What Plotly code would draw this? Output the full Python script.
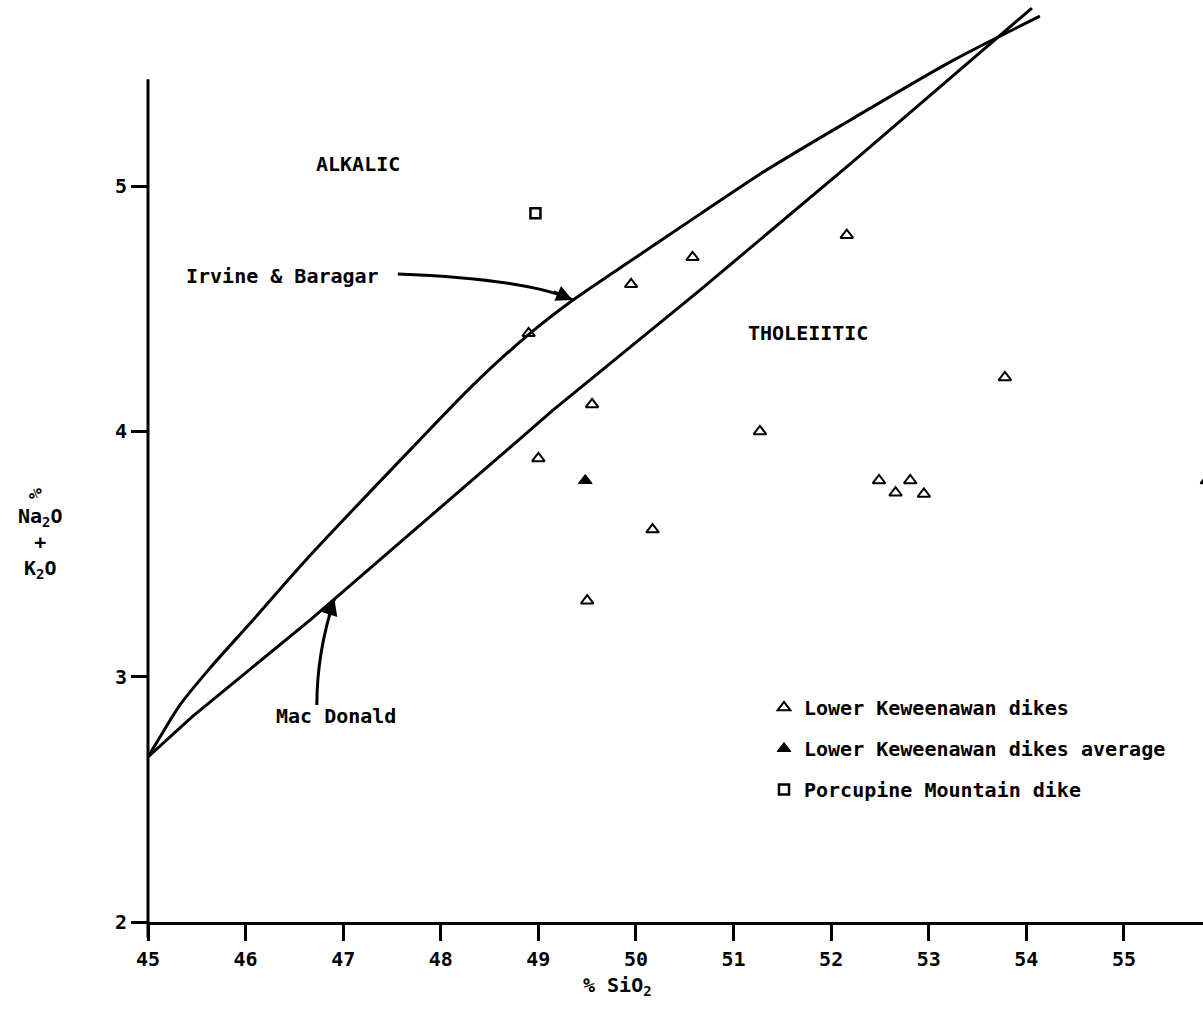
import plotly.graph_objects as go

# ---------------- data ----------------
dike_sio2 = [48.9, 49.0, 49.5, 49.55, 49.95, 50.17, 50.58, 51.27, 52.16, 52.49, 52.66, 52.81, 52.95, 53.78, 55.85]
dike_alk = [4.40, 3.89, 3.31, 4.11, 4.60, 3.60, 4.71, 4.00, 4.80, 3.80, 3.75, 3.80, 3.745, 4.22, 3.80]

avg_sio2 = [49.48]
avg_alk = [3.80]

porc_sio2 = [48.97]
porc_alk = [4.89]

# Irvine & Baragar boundary
ib_x = [45.0, 45.123, 45.328, 45.635, 46.076, 46.609, 47.684, 48.330, 48.893, 49.355, 49.836, 50.656, 51.270, 52.193, 53.217, 54.139]
ib_y = [2.673, 2.754, 2.885, 3.035, 3.231, 3.472, 3.924, 4.189, 4.393, 4.536, 4.666, 4.886, 5.049, 5.269, 5.506, 5.693]

# Mac Donald boundary
md_x = [45.0, 45.451, 46.660, 47.377, 48.678, 49.150, 50.656, 52.193, 54.057]
md_y = [2.673, 2.836, 3.231, 3.476, 3.924, 4.087, 4.576, 5.090, 5.726]

x_ticks = [45, 46, 47, 48, 49, 50, 51, 52, 53, 54, 55]
y_ticks = [2, 3, 4, 5]

FONT = "DejaVu Sans Mono"
BLACK = "black"

fig = go.Figure()

fig.add_trace(go.Scatter(x=ib_x, y=ib_y, mode="lines", line=dict(color=BLACK, width=3, shape="spline", smoothing=0.8),
                         showlegend=False, hoverinfo="skip"))
fig.add_trace(go.Scatter(x=md_x, y=md_y, mode="lines", line=dict(color=BLACK, width=3),
                         showlegend=False, hoverinfo="skip"))

fig.add_trace(go.Scatter(x=dike_sio2, y=dike_alk, mode="markers", name="Lower Keweenawan dikes",
                         legendgroup="a",
                         marker=dict(symbol="triangle-up-open", size=11, color=BLACK, line=dict(width=2, color=BLACK))))
fig.add_trace(go.Scatter(x=avg_sio2, y=avg_alk, mode="markers", name="Lower Keweenawan dikes average",
                         legendgroup="b",
                         marker=dict(symbol="triangle-up", size=12, color=BLACK, line=dict(width=1, color=BLACK))))
fig.add_trace(go.Scatter(x=porc_sio2, y=porc_alk, mode="markers", name="Porcupine Mountain dike",
                         legendgroup="c",
                         marker=dict(symbol="square-open", size=10, color=BLACK, line=dict(width=2.5, color=BLACK))))

tfont = dict(family=FONT, size=20, color=BLACK, weight="bold")

# y axis line (only partial height)
fig.add_shape(type="line", x0=0, x1=0, y0=-0.017, y1=(5.436 - 2) / 3.759, xref="paper", yref="paper",
              line=dict(color=BLACK, width=3))

# curved arrows
fig.add_shape(type="path", xref="x", yref="y",
              path="M 47.56,4.642 Q 48.90,4.621 49.35,4.536",
              line=dict(color=BLACK, width=3))
fig.add_shape(type="path", xref="x", yref="y",
              path="M 46.73,2.885 Q 46.73,3.10 46.91,3.317",
              line=dict(color=BLACK, width=3))

annotations = [
    dict(x=49.35, y=4.536, text="", showarrow=True, arrowhead=2, arrowsize=1.3, arrowwidth=2.5,
         ax=-20, ay=-9, arrowcolor=BLACK),
    dict(x=46.91, y=3.317, text="", showarrow=True, arrowhead=2, arrowsize=1.3, arrowwidth=2.5,
         ax=-6, ay=19, arrowcolor=BLACK),
    dict(x=47.15, y=5.09, text="ALKALIC", showarrow=False, font=tfont),
    dict(x=51.76, y=4.40, text="THOLEIITIC", showarrow=False, font=tfont),
    dict(x=46.38, y=4.635, text="Irvine & Baragar", showarrow=False, font=tfont),
    dict(x=46.93, y=2.84, text="Mac Donald", showarrow=False, font=tfont),
    dict(xref="paper", yref="paper", x=(40 - 148) / 1055, y=(922 - 543) / 922,
         xanchor="center", yanchor="middle",
         text="Na<sub>2</sub>O<br>+<br>K<sub>2</sub>O", showarrow=False, font=tfont, align="center"),
    dict(xref="paper", yref="paper", x=(36 - 148) / 1055, y=(922 - 493) / 922,
         xanchor="center", yanchor="middle",
         text="%", textangle=90, showarrow=False, font=dict(family=FONT, size=18, color=BLACK, weight="bold")),
    dict(xref="paper", yref="paper", x=(617 - 148) / 1055, y=-(986 - 922) / 922,
         xanchor="center", yanchor="middle",
         text="% SiO<sub>2</sub>", showarrow=False, font=tfont),
]

fig.update_layout(
    width=1203, height=1023,
    margin=dict(l=148, r=0, t=0, b=101),
    paper_bgcolor="white", plot_bgcolor="white",
    font=dict(family=FONT, size=20, color=BLACK),
    annotations=annotations,
    legend=dict(x=(764 - 148) / 1055, y=(922 - 688) / 922, xanchor="left", yanchor="top",
                traceorder="grouped", tracegroupgap=12, bgcolor="rgba(0,0,0,0)",
                font=dict(family=FONT, size=20, color=BLACK, weight="bold")),
    xaxis=dict(range=[45, 55.81], showgrid=False, zeroline=False, showline=True, linecolor=BLACK, linewidth=3,
               tickmode="array", tickvals=x_ticks, ticktext=[str(t) for t in x_ticks],
               ticks="outside", ticklen=16, tickwidth=3, tickcolor=BLACK, ticklabelstandoff=1,
               tickfont=dict(family=FONT, size=20, color=BLACK, weight="bold")),
    yaxis=dict(range=[2, 5.759], showgrid=False, zeroline=False, showline=False,
               tickmode="array", tickvals=y_ticks, ticktext=[str(t) for t in y_ticks],
               ticks="outside", ticklen=16, tickwidth=3, tickcolor=BLACK,
               tickfont=dict(family=FONT, size=20, color=BLACK, weight="bold")),
)

fig.write_html("out.html")
